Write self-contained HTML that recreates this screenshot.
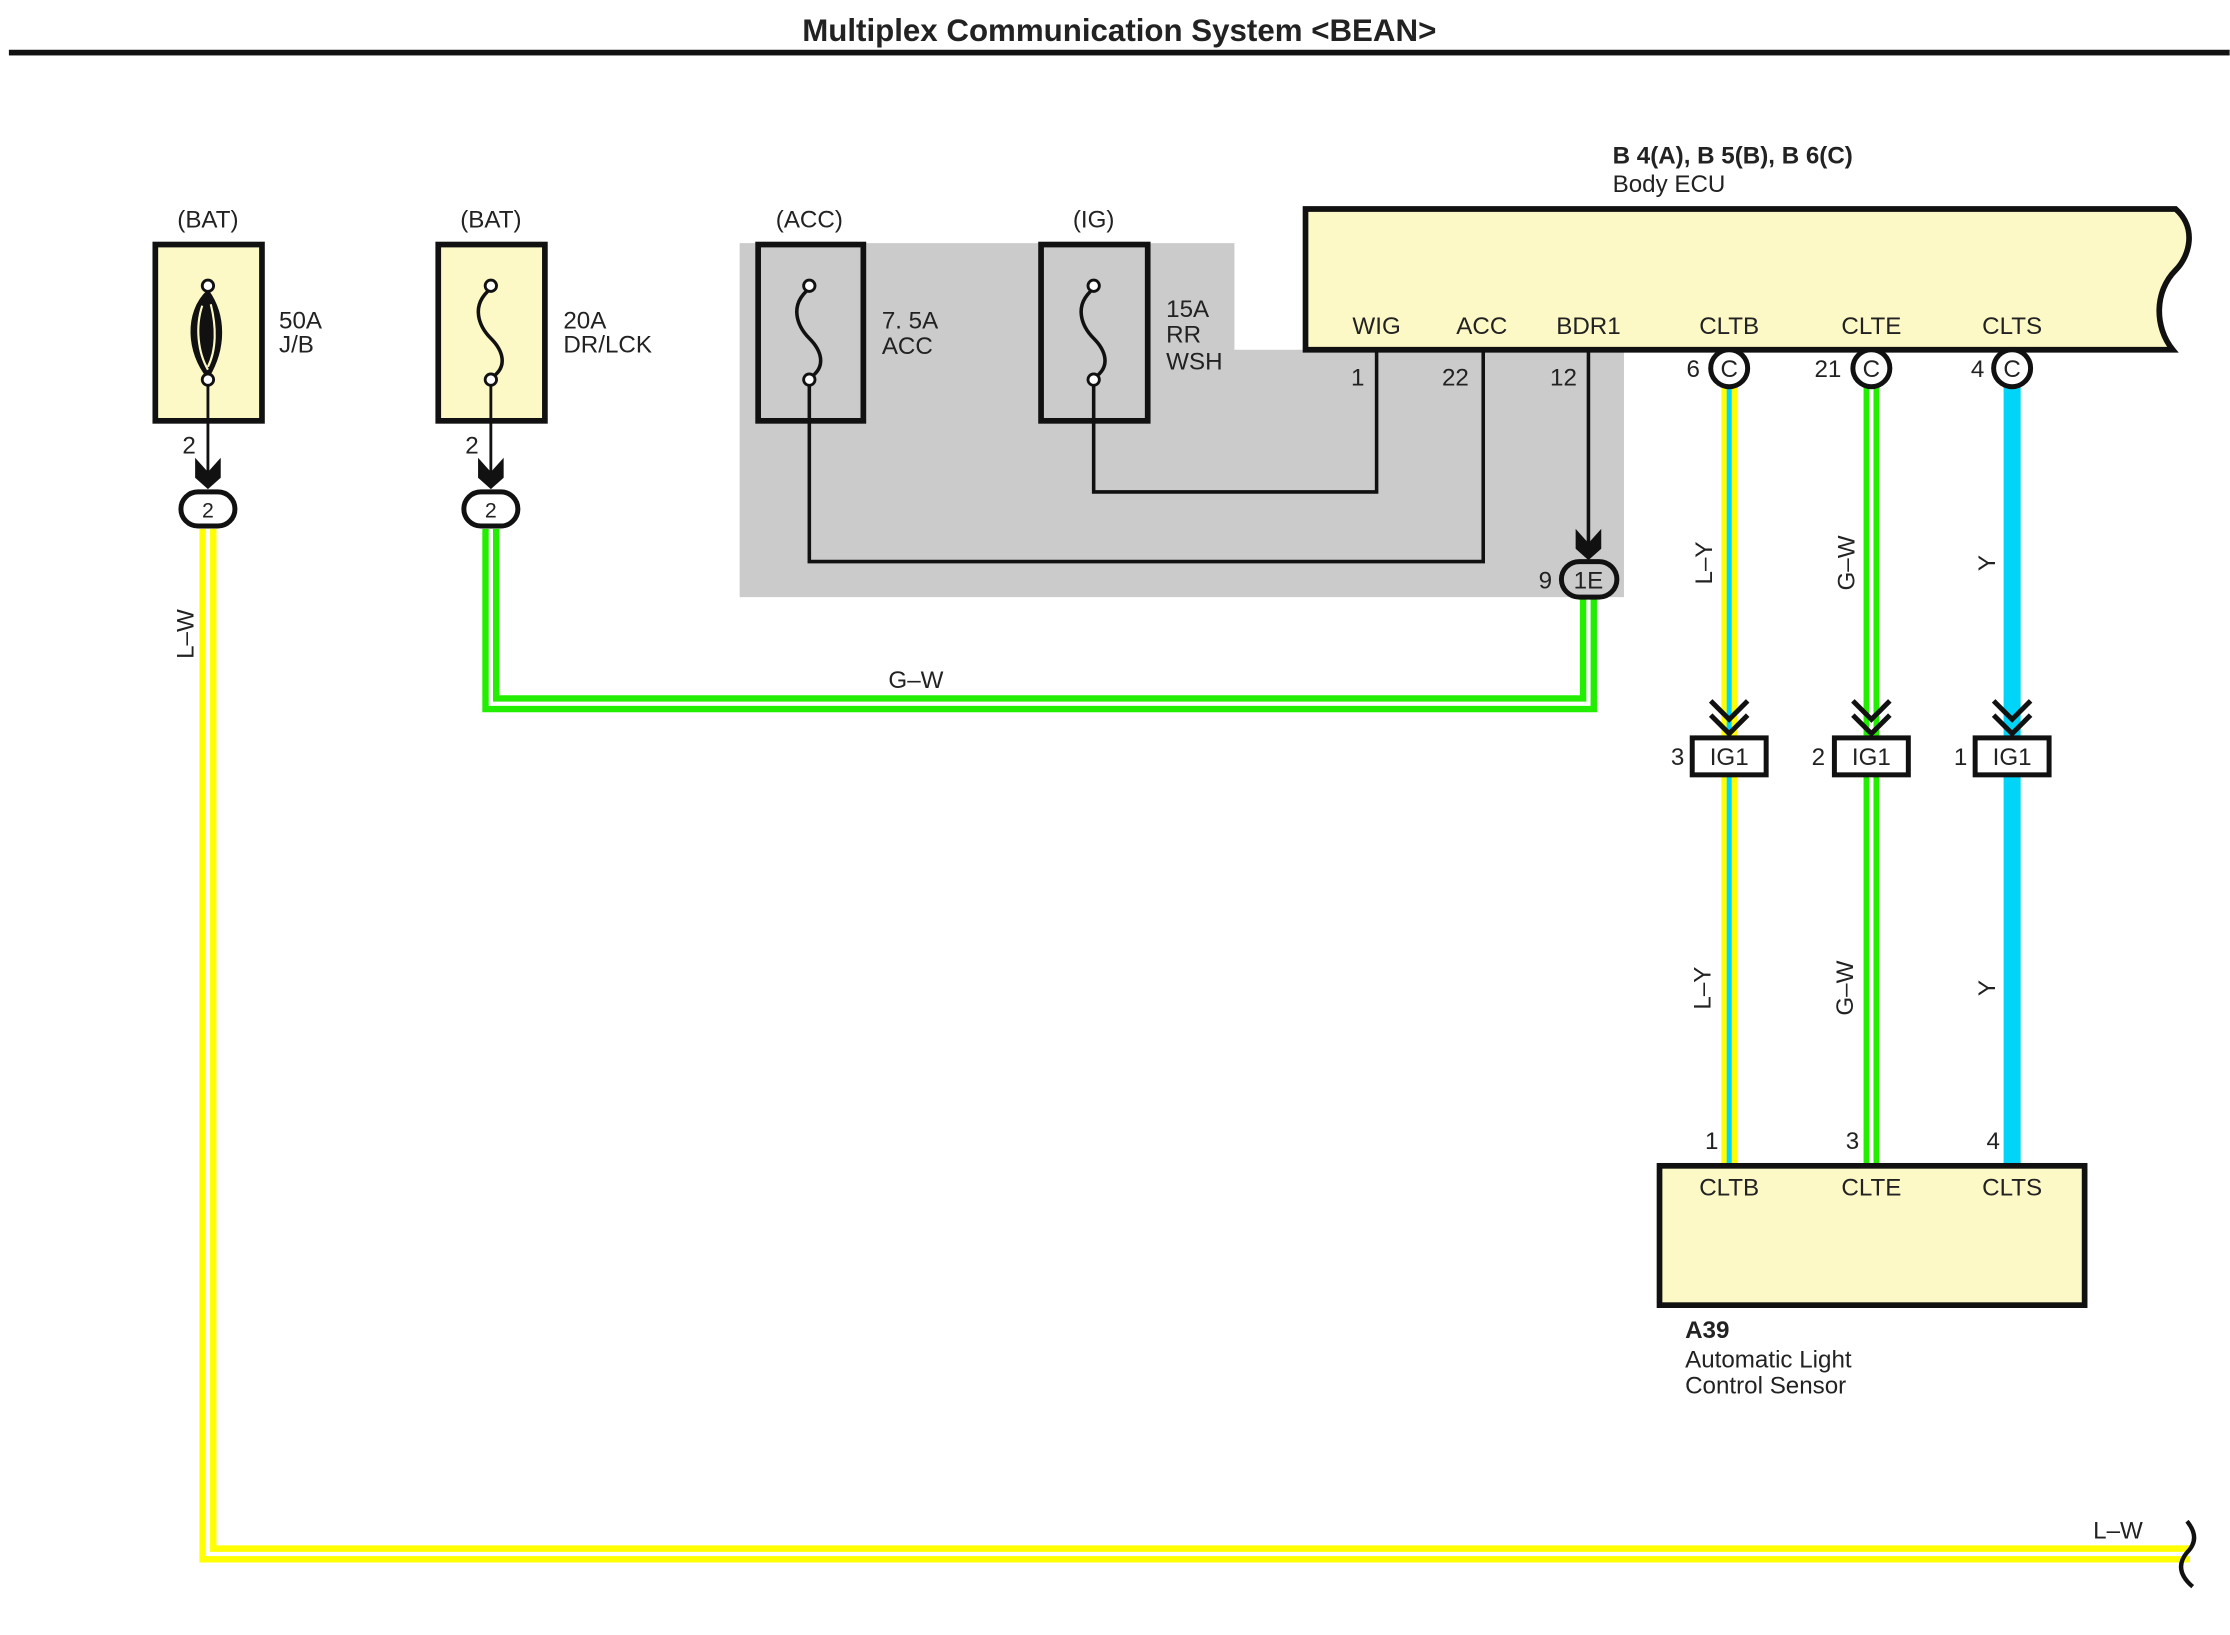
<!DOCTYPE html>
<html><head><meta charset="utf-8"><style>
html,body{margin:0;padding:0;background:#fff;}
svg{display:block;}
text{font-family:"Liberation Sans",sans-serif;font-size:17px;fill:#222;}
</style></head><body>
<svg width="2230" height="1635" viewBox="0 0 1568 1150" xmlns="http://www.w3.org/2000/svg">
<rect width="1568" height="1150" fill="#fff"/>
<text x="787" y="29" text-anchor="middle" style="font-weight:bold;font-size:22px">Multiplex Communication System &lt;BEAN&gt;</text>
<rect x="6" y="35" width="1562" height="4" fill="#111"/>

<path d="M520 171 H868 V246 H1142 V420 H520 Z" fill="#cbcbcb"/>

<path d="M146 372 V1093 H1540" fill="none" stroke="#ffff00" stroke-width="12"/>
<path d="M146 372 V1093 H1540" fill="none" stroke="#fff" stroke-width="3"/>
<path d="M1538 1070 q10 12 0 22 q-10 12 4 24" fill="none" stroke="#111" stroke-width="3"/>
<text x="1472" y="1082">L–W</text>
<text transform="translate(136,446) rotate(-90)" text-anchor="middle">L–W</text>

<path d="M345 372 V495 H1117 V420" fill="none" stroke="#22ee00" stroke-width="12"/>
<path d="M345 372 V495 H1117 V420" fill="none" stroke="#fff" stroke-width="3"/>
<text x="644" y="484" text-anchor="middle">G–W</text>

<text x="146" y="160" text-anchor="middle">(BAT)</text>
<rect x="109" y="172" width="75" height="124" fill="#fcf9c6" stroke="#111" stroke-width="4"/>
<path d="M146 205 C130 220 132 248 146 265 C158 245 158 222 146 205 Z" fill="#111" stroke="#111" stroke-width="2"/>
<path d="M142 215 C137 230 139 248 146 260 M148 214 C152 230 152 246 146 258" fill="none" stroke="#fcf9c6" stroke-width="1.5"/>
<circle cx="146" cy="201" r="4" fill="#fff" stroke="#111" stroke-width="2"/>
<circle cx="146" cy="267" r="4" fill="#fff" stroke="#111" stroke-width="2"/>
<line x1="146" y1="271" x2="146" y2="340" stroke="#111" stroke-width="2"/>
<path d="M137 322 L146 332 L155 322 L155 336 L146 344 L137 336 Z" fill="#111"/>
<text x="128" y="319">2</text>
<rect x="127" y="346" width="38" height="24" rx="12" fill="#fff" stroke="#111" stroke-width="3.5"/>
<text x="146" y="364" text-anchor="middle" style="font-size:15px">2</text>
<text x="196" y="231">50A</text><text x="196" y="248">J/B</text>

<text x="345" y="160" text-anchor="middle">(BAT)</text>
<rect x="308" y="172" width="75" height="124" fill="#fcf9c6" stroke="#111" stroke-width="4"/>
<path d="M345 203 C330 215 337 230 345 238 C353 246 358 258 345 266" fill="none" stroke="#111" stroke-width="2.5"/>
<circle cx="345" cy="201" r="4" fill="#fff" stroke="#111" stroke-width="2"/>
<circle cx="345" cy="267" r="4" fill="#fff" stroke="#111" stroke-width="2"/>
<line x1="345" y1="271" x2="345" y2="340" stroke="#111" stroke-width="2"/>
<path d="M336 322 L345 332 L354 322 L354 336 L345 344 L336 336 Z" fill="#111"/>
<text x="327" y="319">2</text>
<rect x="326" y="346" width="38" height="24" rx="12" fill="#fff" stroke="#111" stroke-width="3.5"/>
<text x="345" y="364" text-anchor="middle" style="font-size:15px">2</text>
<text x="396" y="231">20A</text><text x="396" y="248">DR/LCK</text>

<text x="569" y="160" text-anchor="middle">(ACC)</text>
<rect x="533" y="172" width="74" height="124" fill="none" stroke="#111" stroke-width="4"/>
<path d="M569 203 C554 215 561 230 569 238 C577 246 582 258 569 266" fill="none" stroke="#111" stroke-width="2.5"/>
<circle cx="569" cy="201" r="4" fill="#fff" stroke="#111" stroke-width="2"/>
<circle cx="569" cy="267" r="4" fill="#fff" stroke="#111" stroke-width="2"/>
<path d="M569 271 V395 H1043 V246" fill="none" stroke="#111" stroke-width="2.5"/>
<text x="620" y="231">7. 5A</text><text x="620" y="249">ACC</text>

<text x="769" y="160" text-anchor="middle">(IG)</text>
<rect x="732" y="172" width="75" height="124" fill="none" stroke="#111" stroke-width="4"/>
<path d="M769 203 C754 215 761 230 769 238 C777 246 782 258 769 266" fill="none" stroke="#111" stroke-width="2.5"/>
<circle cx="769" cy="201" r="4" fill="#fff" stroke="#111" stroke-width="2"/>
<circle cx="769" cy="267" r="4" fill="#fff" stroke="#111" stroke-width="2"/>
<path d="M769 271 V346 H968 V246" fill="none" stroke="#111" stroke-width="2.5"/>
<text x="820" y="223">15A</text><text x="820" y="241">RR</text><text x="820" y="260">WSH</text>

<line x1="1117" y1="246" x2="1117" y2="385" stroke="#111" stroke-width="2.5"/>
<path d="M1108 372 L1117 382 L1126 372 L1126 386 L1117 394 L1108 386 Z" fill="#111"/>
<rect x="1098" y="395" width="39" height="25" rx="12.5" fill="#cbcbcb" stroke="#111" stroke-width="3.5"/>
<text x="1117" y="414" text-anchor="middle">1E</text>
<text x="1082" y="414">9</text>
<text x="950" y="271">1</text>
<text x="1014" y="271">22</text>
<text x="1090" y="271">12</text>

<path d="M918 147 H1530 C1545 160 1540 180 1530 190 C1515 205 1515 230 1528 246 H918 Z" fill="#fcf9c6" stroke="#111" stroke-width="4"/>
<text x="1134" y="115" style="font-weight:bold">B 4(A), B 5(B), B 6(C)</text>
<text x="1134" y="135">Body ECU</text>
<g text-anchor="middle">
<text x="968" y="235">WIG</text><text x="1042" y="235">ACC</text><text x="1117" y="235">BDR1</text>
<text x="1216" y="235">CLTB</text><text x="1316" y="235">CLTE</text><text x="1415" y="235">CLTS</text>
</g>

<line x1="1216" y1="270" x2="1216" y2="820" stroke="#ffff00" stroke-width="11"/>
<line x1="1216" y1="270" x2="1216" y2="820" stroke="#00d4ff" stroke-width="3.5"/>
<line x1="1316" y1="270" x2="1316" y2="820" stroke="#22ee00" stroke-width="11"/>
<line x1="1316" y1="270" x2="1316" y2="820" stroke="#fff" stroke-width="3"/>
<line x1="1415" y1="270" x2="1415" y2="820" stroke="#00d4f8" stroke-width="12"/>

<g fill="#fff" stroke="#111" stroke-width="3.5">
<circle cx="1216" cy="259" r="13"/><circle cx="1316" cy="259" r="13"/><circle cx="1415" cy="259" r="13"/>
</g>
<g text-anchor="middle">
<text x="1216" y="265">C</text><text x="1316" y="265">C</text><text x="1415" y="265">C</text>
</g>
<text x="1186" y="265">6</text><text x="1276" y="265">21</text><text x="1386" y="265">4</text>

<g fill="none" stroke="#111" stroke-width="3.5">
<path d="M1203 493 L1216 506 L1229 493 M1203 503 L1216 516 L1229 503"/>
<path d="M1303 493 L1316 506 L1329 493 M1303 503 L1316 516 L1329 503"/>
<path d="M1402 493 L1415 506 L1428 493 M1402 503 L1415 516 L1428 503"/>
</g>
<g fill="#fff" stroke="#111" stroke-width="3.5">
<rect x="1190" y="519" width="52" height="26"/><rect x="1290" y="519" width="52" height="26"/><rect x="1389" y="519" width="52" height="26"/>
</g>
<g text-anchor="middle">
<text x="1216" y="538">IG1</text><text x="1316" y="538">IG1</text><text x="1415" y="538">IG1</text>
</g>
<text x="1175" y="538">3</text><text x="1274" y="538">2</text><text x="1374" y="538">1</text>

<g text-anchor="middle">
<text transform="translate(1204,396) rotate(-90)">L–Y</text>
<text transform="translate(1203,695) rotate(-90)">L–Y</text>
<text transform="translate(1304,396) rotate(-90)">G–W</text>
<text transform="translate(1303,695) rotate(-90)">G–W</text>
<text transform="translate(1403,396) rotate(-90)">Y</text>
<text transform="translate(1403,695) rotate(-90)">Y</text>
</g>

<rect x="1167" y="820" width="299" height="98" fill="#fcf9c6" stroke="#111" stroke-width="4"/>
<g text-anchor="middle">
<text x="1216" y="841">CLTB</text><text x="1316" y="841">CLTE</text><text x="1415" y="841">CLTS</text>
</g>
<text x="1199" y="808">1</text><text x="1298" y="808">3</text><text x="1397" y="808">4</text>
<text x="1185" y="941" style="font-weight:bold">A39</text>
<text x="1185" y="962">Automatic Light</text>
<text x="1185" y="980">Control Sensor</text>
</svg>
</body></html>
